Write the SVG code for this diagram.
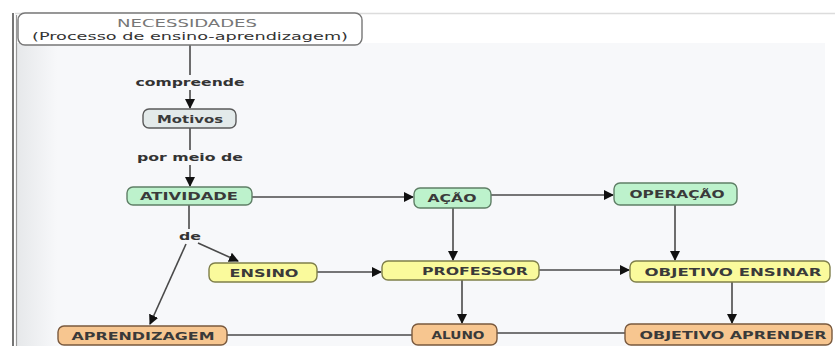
<svg xmlns="http://www.w3.org/2000/svg" width="835" height="346" viewBox="0 0 835 346">
<defs>
<marker id="ah" markerWidth="10" markerHeight="10" refX="9" refY="5" orient="auto" markerUnits="userSpaceOnUse">
<path d="M0,0 L10,5 L0,10 z" fill="#111"/>
</marker>
<linearGradient id="lf" x1="0" y1="0" x2="1" y2="0">
<stop offset="0" stop-color="#e6e8ea"/>
<stop offset="1" stop-color="#f7f8fa"/>
</linearGradient>
<style>
.edge{stroke:#4a4a4a;stroke-width:1.6;fill:none}
.arr{marker-end:url(#ah)}
.t{font-family:"DejaVu Sans","Verdana",sans-serif;font-weight:bold;font-size:11px;fill:#3a3a3a;text-anchor:middle}
.lbl{font-family:"DejaVu Sans","Verdana",sans-serif;font-weight:bold;font-size:11px;fill:#333;text-anchor:middle}
.green{fill:#bdf2cc;stroke:#5f7f66;stroke-width:1.4}
.yellow{fill:#fafa9c;stroke:#7f7f4a;stroke-width:1.4}
.orange{fill:#f7c690;stroke:#7a5a3e;stroke-width:1.4}
.gray{fill:#e3eaea;stroke:#5a5a5a;stroke-width:1.4}
</style>
</defs>
<rect x="0" y="0" width="835" height="346" fill="#ffffff"/>
<rect x="17" y="43" width="808" height="303" fill="#f7f8fa"/>
<rect x="17" y="43" width="40" height="303" fill="url(#lf)"/>
<line x1="15" y1="13.5" x2="835" y2="13.5" stroke="#dcdcdc" stroke-width="1.5"/>
<line x1="13" y1="13" x2="13" y2="346" stroke="#666" stroke-width="1.8"/>
<line x1="16.5" y1="15" x2="16.5" y2="346" stroke="#999" stroke-width="1.2"/>

<g id="connectors">
<line class="edge" x1="190" y1="45" x2="190" y2="75"/>
<line class="edge arr" x1="190" y1="90" x2="190" y2="108"/>
<line class="edge" x1="190" y1="128" x2="190" y2="150"/>
<line class="edge arr" x1="190" y1="165" x2="190" y2="186"/>
<line class="edge arr" x1="252" y1="197" x2="413" y2="197"/>
<line class="edge arr" x1="491" y1="195" x2="613" y2="195"/>
<line class="edge" x1="189" y1="205" x2="189" y2="229"/>
<line class="edge arr" x1="198" y1="243" x2="238" y2="261"/>
<line class="edge arr" x1="186" y1="244" x2="150" y2="324"/>
<line class="edge arr" x1="317" y1="272" x2="381" y2="272"/>
<line class="edge arr" x1="453" y1="208" x2="453" y2="260"/>
<line class="edge arr" x1="675" y1="205" x2="675" y2="260"/>
<line class="edge arr" x1="539" y1="270" x2="629" y2="270"/>
<line class="edge arr" x1="462" y1="280" x2="462" y2="323"/>
<line class="edge arr" x1="732" y1="282" x2="732" y2="323"/>
<line class="edge" x1="227" y1="335" x2="412" y2="335"/>
<line class="edge" x1="497" y1="333" x2="625" y2="333"/>
<text class="lbl" x="190" y="86" textLength="109" lengthAdjust="spacingAndGlyphs">compreende</text>
<text class="lbl" x="190" y="161" textLength="106" lengthAdjust="spacingAndGlyphs">por meio de</text>
<text class="lbl" x="190" y="240" textLength="22" lengthAdjust="spacingAndGlyphs" font-weight="normal">de</text>
</g>

<g id="n-necessidades">
<rect x="18" y="13" width="344" height="32" rx="7" fill="#ffffff" stroke="#777" stroke-width="1.4"/>
<text x="187" y="27" font-family="DejaVu Sans, Verdana, sans-serif" font-size="11" fill="#777" text-anchor="middle" textLength="140" lengthAdjust="spacingAndGlyphs">NECESSIDADES</text>
<text x="190" y="40" font-family="DejaVu Sans, Verdana, sans-serif" font-size="11" fill="#333" text-anchor="middle" textLength="316" lengthAdjust="spacingAndGlyphs">(Processo de ensino-aprendizagem)</text>
</g>
<g id="n-motivos">
<rect class="gray" x="143" y="109" width="93" height="19" rx="6"/>
<text class="t" x="190" y="122.5" textLength="66" lengthAdjust="spacingAndGlyphs">Motivos</text>
</g>
<g id="n-atividade">
<rect class="green" x="127" y="187" width="125" height="18" rx="6"/>
<text class="t" x="189" y="200" textLength="98" lengthAdjust="spacingAndGlyphs">ATIVIDADE</text>
</g>
<g id="n-acao">
<rect class="green" x="414" y="188" width="77" height="20" rx="6"/>
<text class="t" x="452" y="202" textLength="49" lengthAdjust="spacingAndGlyphs">AÇÃO</text>
</g>
<g id="n-operacao">
<rect class="green" x="614" y="183" width="123" height="22" rx="6"/>
<text class="t" x="677" y="198" textLength="95" lengthAdjust="spacingAndGlyphs">OPERAÇÃO</text>
</g>
<g id="n-ensino">
<rect class="yellow" x="209" y="263" width="108" height="19" rx="6"/>
<text class="t" x="264" y="276.5" textLength="69" lengthAdjust="spacingAndGlyphs">ENSINO</text>
</g>
<g id="n-professor">
<rect class="yellow" x="382" y="261" width="157" height="19" rx="6"/>
<text class="t" x="475" y="274.5" textLength="106" lengthAdjust="spacingAndGlyphs">PROFESSOR</text>
</g>
<g id="n-objetivo-ensinar">
<rect class="yellow" x="630" y="261" width="200" height="21" rx="6"/>
<text class="t" x="733" y="275.5" textLength="177" lengthAdjust="spacingAndGlyphs">OBJETIVO ENSINAR</text>
</g>
<g id="n-aprendizagem">
<rect class="orange" x="58" y="326" width="169" height="19" rx="6"/>
<text class="t" x="143" y="339.5" textLength="143" lengthAdjust="spacingAndGlyphs">APRENDIZAGEM</text>
</g>
<g id="n-aluno">
<rect class="orange" x="412" y="324" width="85" height="21" rx="6"/>
<text class="t" x="458" y="339" textLength="53" lengthAdjust="spacingAndGlyphs">ALUNO</text>
</g>
<g id="n-objetivo-aprender">
<rect class="orange" x="625" y="324" width="207" height="21" rx="6"/>
<text class="t" x="733" y="339" textLength="187" lengthAdjust="spacingAndGlyphs">OBJETIVO APRENDER</text>
</g>
</svg>
